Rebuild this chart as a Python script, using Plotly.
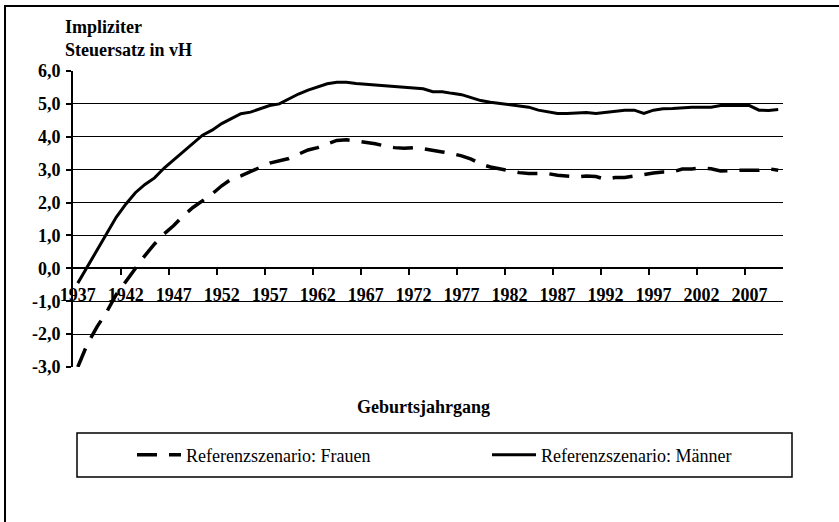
import plotly.graph_objects as go

years = list(range(1937, 2011))

maenner = [-0.45, 0.05, 0.55, 1.05, 1.55, 1.95, 2.3, 2.55, 2.75, 3.05,
           3.3, 3.55, 3.8, 4.05, 4.2, 4.4, 4.55, 4.7, 4.75, 4.85,
           4.95, 5.0, 5.15, 5.3, 5.42, 5.52, 5.61, 5.66, 5.66, 5.62,
           5.6, 5.57, 5.54, 5.52, 5.5, 5.5, 5.46, 5.37, 5.37, 5.32,
           5.28, 5.19, 5.1, 5.05, 5.01, 4.97, 4.93, 4.9, 4.81, 4.76,
           4.71, 4.71, 4.73, 4.74, 4.71, 4.74, 4.76, 4.81, 4.81, 4.71,
           4.81, 4.85, 4.86, 4.89, 4.9, 4.9, 4.9, 4.95, 4.95, 4.95,
           4.95, 4.81, 4.8, 4.83]

frauen = [-3.0, -2.3, -1.78, -1.33, -0.8, -0.4, -0.02, 0.39, 0.74, 1.05,
          1.3, 1.6, 1.85, 2.05, 2.26, 2.51, 2.71, 2.81, 2.93, 3.07,
          3.2, 3.27, 3.34, 3.47, 3.6, 3.67, 3.79, 3.89, 3.91, 3.87,
          3.83, 3.79, 3.72, 3.67, 3.65, 3.67, 3.64, 3.6, 3.54, 3.49,
          3.42, 3.32, 3.17, 3.08, 3.02, 2.96, 2.91, 2.88, 2.88, 2.88,
          2.83, 2.81, 2.78, 2.81, 2.79, 2.71, 2.76, 2.76, 2.81, 2.86,
          2.9, 2.93, 2.93, 3.02, 3.02, 3.05, 3.03, 2.96, 2.98, 2.98,
          2.98, 2.98, 3.03, 2.98]

x_tick_years = [1937, 1942, 1947, 1952, 1957, 1962, 1967, 1972, 1977,
                1982, 1987, 1992, 1997, 2002, 2007]
x_tick_labels = [str(y) for y in x_tick_years]
y_tick_vals = [-3, -2, -1, 0, 1, 2, 3, 4, 5, 6]
y_tick_labels = ["-3,0", "-2,0", "-1,0", "0,0", "1,0", "2,0", "3,0", "4,0", "5,0", "6,0"]

name_f = "Referenzszenario: Frauen"
name_m = "Referenzszenario: Männer"

FONT = "Liberation Serif"

fig = go.Figure()
fig.add_trace(go.Scatter(x=years, y=frauen, mode="lines", name=name_f, legend="legend",
                         line=dict(color="black", width=3.5, dash="20px,12px")))
fig.add_trace(go.Scatter(x=years, y=maenner, mode="lines", name=name_m, legend="legend2",
                         line=dict(color="black", width=3)))

boundaries = [y - 0.5 for y in x_tick_years[1:]]

legend_common = dict(
    orientation="h", y=(367 - 455) / 296, xanchor="left", yanchor="middle",
    bgcolor="rgba(0,0,0,0)", borderwidth=0,
    font=dict(family=FONT, size=18, color="black"),
    itemwidth=44,
)

fig.update_layout(
    width=839, height=522,
    margin=dict(l=73, r=56, t=71, b=155, pad=0),
    paper_bgcolor="white", plot_bgcolor="white",
    font=dict(family=FONT, size=18, color="black"),
    xaxis=dict(
        range=[1936.5, 2010.5],
        tickvals=x_tick_years, ticktext=x_tick_labels,
        ticks="", showline=True, linecolor="black", linewidth=2,
        anchor="free", position=1/3,
        showgrid=False, zeroline=False,
        tickfont=dict(family=FONT, size=18, color="black", weight="bold"),
        ticklabelstandoff=10,
        minor=dict(tickvals=boundaries, ticks="outside", ticklen=6,
                   tickwidth=2, tickcolor="black", showgrid=False),
    ),
    yaxis=dict(
        range=[-3, 6],
        tickvals=y_tick_vals, ticktext=y_tick_labels,
        showline=True, linecolor="black", linewidth=2,
        ticks="outside", ticklen=5, tickwidth=2, tickcolor="black",
        showgrid=True, gridcolor="black", gridwidth=1,
        zeroline=False,
        tickfont=dict(family=FONT, size=18, color="black", weight="bold"),
        ticklabelstandoff=2,
    ),
    legend=dict(x=(132 - 73) / 710, **legend_common),
    legend2=dict(x=(487 - 73) / 710, **legend_common),
    showlegend=True,
)

# outer chart frame (left and top visible)
fig.add_shape(type="rect", xref="paper", yref="paper",
              x0=(5 - 73) / 710, x1=1.3, y0=-0.7, y1=(367 - 6) / 296,
              line=dict(color="black", width=2), layer="below")
# legend box
fig.add_shape(type="rect", xref="paper", yref="paper",
              x0=(77 - 73) / 710, x1=(792 - 73) / 710,
              y0=(367 - 477) / 296, y1=(367 - 433) / 296,
              line=dict(color="black", width=1.5))

fig.add_annotation(text="<b>Impliziter<br>Steuersatz in vH</b>", xref="paper", yref="paper",
                   x=(63 - 73) / 710, y=(367 - 15) / 296, xanchor="left", yanchor="top",
                   align="left", showarrow=False,
                   font=dict(family=FONT, size=18, color="black"))
fig.add_annotation(text="<b>Geburtsjahrgang</b>", xref="paper", yref="paper",
                   x=(423 - 73) / 710, y=(367 - 407) / 296, xanchor="center", yanchor="middle",
                   showarrow=False, font=dict(family=FONT, size=18, color="black"))

fig.write_html("out.html", config={"displayModeBar": False},
               post_script="document.body.style.margin='0';")
